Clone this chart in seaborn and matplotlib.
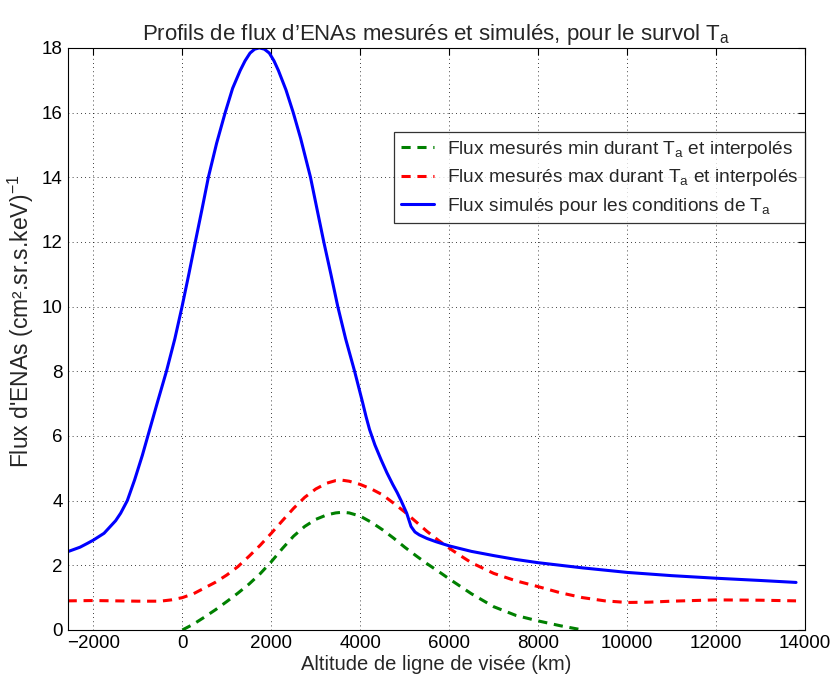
import numpy as np
import pandas as pd
import matplotlib
matplotlib.use("Agg")
import matplotlib.pyplot as plt
import seaborn as sns

# Data
alt_min = [0, 250, 500, 750, 1000, 1250, 1500, 1750, 2000, 2250, 2500, 2750, 3000, 3250,
           3450, 3600, 3750, 4000, 4250, 4500, 4750, 5000, 5250, 5500, 5750, 6000, 6250,
           6500, 7000, 7500, 8000, 8500, 9000]
flux_min = [0.0, 0.18, 0.40, 0.63, 0.88, 1.14, 1.42, 1.74, 2.11, 2.52, 2.90, 3.20, 3.42, 3.56,
            3.62, 3.64, 3.62, 3.52, 3.33, 3.10, 2.84, 2.56, 2.30, 2.05, 1.82, 1.58, 1.35,
            1.12, 0.72, 0.45, 0.28, 0.13, 0.0]

alt_max = [-2580, -2000, -1500, -1000, -500, -250, 0, 250, 500, 750, 1000, 1250, 1500, 1750,
           2000, 2250, 2500, 2750, 3000, 3250, 3450, 3600, 3750, 4000, 4250, 4500, 4750,
           5000, 5250, 5500, 5750, 6000, 6250, 6500, 7000, 7500, 8000, 8500, 9000, 9500,
           10000, 10500, 11000, 12000, 13000, 13800]
flux_max = [0.90, 0.91, 0.90, 0.89, 0.89, 0.93, 1.00, 1.12, 1.30, 1.48, 1.70, 1.96, 2.28, 2.62,
            2.99, 3.38, 3.76, 4.10, 4.36, 4.54, 4.62, 4.63, 4.60, 4.50, 4.36, 4.18, 3.92,
            3.65, 3.35, 3.05, 2.78, 2.53, 2.30, 2.08, 1.75, 1.52, 1.34, 1.15, 1.00, 0.90,
            0.85, 0.86, 0.89, 0.93, 0.92, 0.90]

alt_sim = [-2580, -2300, -2133, -2000, -1761, -1500, -1388, -1238, -1074, -900, -776, -567,
           -358, -170, -7, 145, 291, 440, 585, 770, 963, 1130, 1300, 1410, 1522, 1625, 1731,
           1845, 1955, 2060, 2160, 2330, 2493, 2660, 2881, 3030, 3180, 3340, 3495, 3672,
           3873, 4050, 4130, 4209, 4330, 4470, 4600, 4731, 4830, 4918, 5045, 5142, 5230,
           5328, 5500, 5701, 6000, 6500, 7000, 7500, 8000, 9000, 10000, 11000, 12000,
           13000, 13800]
flux_sim = [2.42, 2.56, 2.68, 2.78, 2.99, 3.38, 3.61, 4.00, 4.64, 5.40, 6.00, 7.01,
            8.00, 9.00, 10.0, 11.0, 12.0, 13.0, 14.0, 15.05, 16.0, 16.75, 17.3, 17.6, 17.84,
            17.96, 18.0, 17.96, 17.84, 17.6, 17.3, 16.7, 16.0, 15.2, 14.0, 13.0, 12.0, 11.0,
            10.0, 9.0, 8.0, 7.05, 6.6, 6.2, 5.72, 5.26, 4.86, 4.50, 4.25, 4.00, 3.61, 3.20,
            3.03, 2.94, 2.83, 2.73, 2.60, 2.43, 2.30, 2.18, 2.08, 1.92, 1.78, 1.68, 1.60,
            1.53, 1.47]

labels = ["Flux mesurés min durant T$_{\\mathrm{a}}$ et interpolés",
          "Flux mesurés max durant T$_{\\mathrm{a}}$ et interpolés",
          "Flux simulés pour les conditions de T$_{\\mathrm{a}}$"]
x_ticks = list(range(-2000, 14001, 2000))
y_ticks = list(range(0, 19, 2))

sns.set_style("white")
plt.rcParams["font.family"] = ["Liberation Sans", "DejaVu Sans"]
plt.rcParams["mathtext.fontset"] = "custom"
plt.rcParams["mathtext.rm"] = "Liberation Sans"
plt.rcParams["mathtext.it"] = "Liberation Sans:italic"
plt.rcParams["axes.unicode_minus"] = True

fig = plt.figure(figsize=(8.35, 6.84), dpi=100)
ax = fig.add_axes([0.081, 0.079, 0.883, 0.851])

df_min = pd.DataFrame({"alt": alt_min, "flux": flux_min})
df_max = pd.DataFrame({"alt": alt_max, "flux": flux_max})
df_sim = pd.DataFrame({"alt": alt_sim, "flux": flux_sim})

sns.lineplot(data=df_min, x="alt", y="flux", ax=ax, color="#008000", lw=2.2,
             label=labels[0], sort=False)
sns.lineplot(data=df_max, x="alt", y="flux", ax=ax, color="#ff0000", lw=2.2,
             label=labels[1], sort=False)
sns.lineplot(data=df_sim, x="alt", y="flux", ax=ax, color="#0000ff", lw=2.2,
             label=labels[2], sort=False)
for line in ax.lines[:2]:
    line.set_dashes((3, 2.2))

ax.set_xlim(-2580, 14000)
ax.set_ylim(0, 18)
ax.set_xticks(x_ticks)
ax.set_yticks(y_ticks)
ax.grid(True, color="black", linestyle=(0, (1, 4)), linewidth=0.6)
ax.tick_params(direction="in", top=True, right=True, length=5, width=0.8,
               labelsize=13.5, colors="black")
for s in ax.spines.values():
    s.set_color("black")
    s.set_linewidth(0.8)

ax.set_title("Profils de flux d\u2019ENAs mesurés et simulés, pour le survol T$_{\\mathrm{a}}$",
             fontsize=16, pad=6)
ax.set_xlabel("Altitude de ligne de visée (km)", fontsize=14.5, labelpad=2)
ax.set_ylabel("Flux d'ENAs (cm².sr.s.keV)$^{-1}$", fontsize=16.5)
ax.yaxis.set_label_coords(-0.043, 0.53)

leg = ax.legend(loc="upper right", bbox_to_anchor=(1.0, 0.855), borderaxespad=0,
                fontsize=13.8, frameon=True, fancybox=False, handlelength=1.75,
                handletextpad=0.65, labelspacing=0.38, borderpad=0.35)
leg.get_frame().set_edgecolor("black")
leg.get_frame().set_linewidth(0.9)

fig.savefig("out.png", dpi=100)
